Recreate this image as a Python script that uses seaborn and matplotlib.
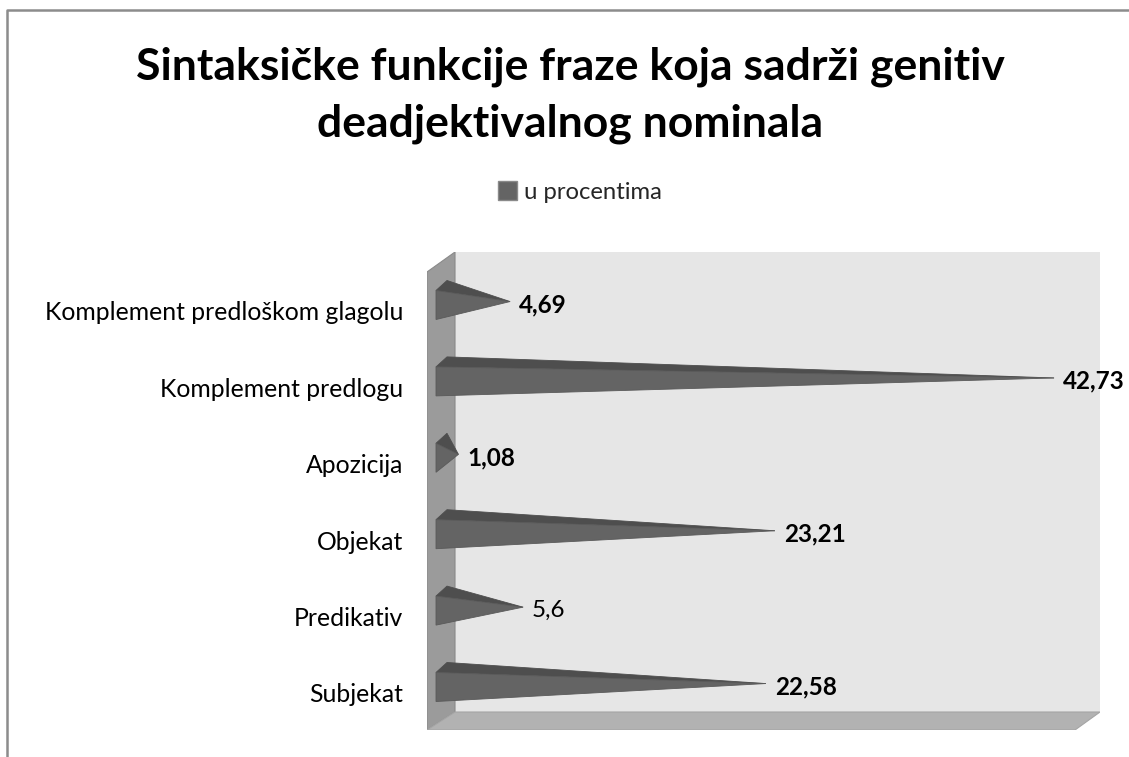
import matplotlib
matplotlib.use('Agg')
import matplotlib.pyplot as plt
import matplotlib.transforms as mtransforms
from matplotlib.patches import Polygon, Patch
from matplotlib.lines import Line2D
import seaborn as sns
import pandas as pd

# ── data ──
categories = ['Komplement predloškom glagolu', 'Komplement predlogu', 'Apozicija',
              'Objekat', 'Predikativ', 'Subjekat']
values = [4.69, 42.73, 1.08, 23.21, 5.6, 22.58]
value_labels = ['4,69', '42,73', '1,08', '23,21', '5,6', '22,58']
label_bold = [True, True, True, True, False, True]
series_name = 'u procentima'
title = 'Sintaksičke funkcije fraze koja sadrži genitiv\ndeadjektivalnog nominala'

df = pd.DataFrame({'kategorija': categories, 'vrijednost': values})

sns.set_theme(style='white')
plt.rcParams['font.family'] = ['Lato', 'DejaVu Sans']

W, H = 1129, 757
fig = plt.figure(figsize=(W / 100, H / 100), dpi=100)
fig.patch.set_facecolor('white')

# plot box (pixels): x 427..1100, y 252..730 from top
ax_l, ax_r, ax_t, ax_b = 427, 1100, 252, 730
aw, ah = ax_r - ax_l, ax_b - ax_t
ax = fig.add_axes([ax_l / W, 1 - ax_b / H, aw / W, ah / H])

sns.barplot(data=df, x='vrijednost', y='kategorija', orient='h', width=0.38,
            color='#646464', ax=ax)

# scale: x zero at px 443, 14.3 px per unit; rows 76.4 px apart, first at px 305
px_per_x, px_per_y = 14.3, 76.4
ax.set_xlim((ax_l - 443) / px_per_x, (ax_r - 443) / px_per_x)
ax.set_ylim((ax_b - 305) / px_per_y, (ax_t - 305) / px_per_y)


def a(px, py):
    return ((px - ax_l) / aw, (ax_b - py) / ah)


# 3D walls (back, left, floor)
ax.add_patch(Polygon([a(455, 252), a(1100, 252), a(1100, 712), a(455, 712)],
                     closed=True, transform=ax.transAxes, facecolor='#e6e6e6',
                     edgecolor='none', zorder=0))
ax.add_patch(Polygon([a(427, 272), a(455, 252), a(455, 712), a(427, 730)],
                     closed=True, transform=ax.transAxes, facecolor='#9b9b9b',
                     edgecolor='#8a8a8a', lw=0.8, zorder=0.5))
ax.add_patch(Polygon([a(427, 730), a(455, 712), a(1100, 712), a(1075, 730)],
                     closed=True, transform=ax.transAxes, facecolor='#b2b2b2',
                     edgecolor='#a5a5a5', lw=0.8, zorder=0.5))

# turn the seaborn bars into cones
base_x = -7 / px_per_x
depth_x, depth_y = 11 / px_per_x, -10 / px_per_y
for bar, lab, bold in zip(ax.patches, value_labels, label_bold):
    y0, h, w = bar.get_y(), bar.get_height(), bar.get_width()
    yc = y0 + h / 2
    bar.set_visible(False)
    tip = (w, yc - 0.045)
    ax.add_patch(Polygon([(base_x, y0), (base_x + depth_x, y0 + depth_y), tip],
                         closed=True, facecolor='#4e4e4e', edgecolor='#4e4e4e',
                         lw=0.6, zorder=2))
    ax.add_patch(Polygon([(base_x, y0), (base_x, y0 + h), tip],
                         closed=True, facecolor='#646464', edgecolor='#5a5a5a',
                         lw=0.6, zorder=3))
    ax.annotate(lab, xy=(w, yc), xytext=(6.5, 0), textcoords='offset points',
                ha='left', va='center', fontsize=17.5,
                fontweight='bold' if bold else 'normal', color='black',
                annotation_clip=False)

for s in ax.spines.values():
    s.set_visible(False)
ax.set_facecolor('none')
ax.set_xlabel('')
ax.set_ylabel('')
ax.set_xticks([])
ax.tick_params(axis='y', length=0, pad=17, labelsize=17.8, labelcolor='black')
shift = mtransforms.ScaledTranslation(0, -6 / 100, fig.dpi_scale_trans)
for t in ax.get_yticklabels():
    t.set_transform(t.get_transform() + shift)

# title and legend
fig.text(570 / W, 1 - 95 / H, title, ha='center', va='center', fontsize=32,
         fontweight='bold', linespacing=1.5, color='black')
fig.legend(handles=[Patch(facecolor='#646464', edgecolor='#8a8a8a', label=series_name)],
           loc='center', bbox_to_anchor=(580 / W, 1 - 192 / H), frameon=False,
           fontsize=17.2, handlelength=0.8, handleheight=0.8, handletextpad=0.3)

# chart area border (left and top only visible)
fig.add_artist(Line2D([7 / W, 7 / W, 1], [0, 1 - 10 / H, 1 - 10 / H],
                      transform=fig.transFigure, color='#8c8c8c', lw=1.8))

fig.savefig('out.png', dpi=100)
